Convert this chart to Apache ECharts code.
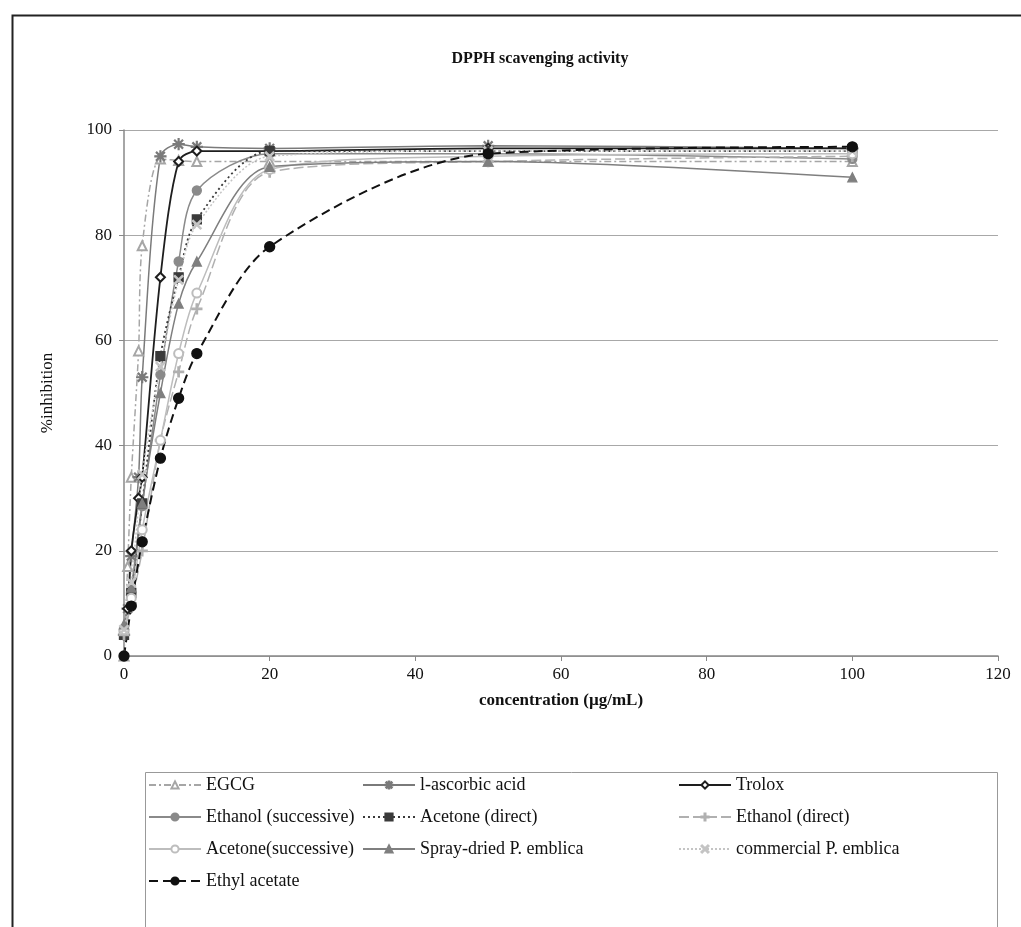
<!DOCTYPE html>
<html>
<head>
<meta charset="utf-8">
<script src="https://cdn.jsdelivr.net/npm/echarts@6/dist/echarts.min.js"></script>
<style>
  html, body { margin: 0; padding: 0; background: #ffffff; }
  #chart { width: 1021px; height: 927px; }
</style>
</head>
<body>
<div id="chart"></div>
<script>
// concentrations (µg/mL)
const standardConc = [0, 0.5, 1, 2, 2.5, 5, 7.5, 10, 20, 50, 100];
const extractConc = [0, 1, 2.5, 5, 7.5, 10, 20, 50, 100];

// %inhibition, standards
const egcg = [0, 17, 34, 58, 78, 94.5, 94.2, 94, 94, 94, 94];
const ascorbic = [4, 9, 19, 34, 53, 95, 97.3, 96.8, 96.5, 97, 96.5];
const trolox = [4, 9, 20, 30, 34, 72, 94, 96, 96, 96.5, 96.5];

// %inhibition, extracts
const ethanolSucc = [5, 12, 28.5, 53.5, 75, 88.5, 95.5, 95.5, 94.5];
const acetoneDirect = [4, 12, 29, 57, 72, 83, 96, 96, 96];
const ethanolDirect = [4, 10, 20, 41, 54, 66, 92, 94, 95];
const acetoneSucc = [5, 11, 24, 41, 57.5, 69, 92.5, 95, 95.5];
const sprayDried = [6, 13, 29, 50, 67, 75, 93, 94, 91];
const commercial = [5, 14, 34.5, 55, 71.5, 82, 95, 96, 96];
const ethylAcetate = [0, 9.5, 21.7, 37.6, 49, 57.5, 77.8, 95.5, 96.8];

const xTicks = [0, 20, 40, 60, 80, 100, 120];
const yTicks = [0, 20, 40, 60, 80, 100];

const pair = (xs, ys) => xs.map((x, i) => [x, ys[i]]);

const plusPath = "path://M4.3 0H5.7V4.3H10V5.7H5.7V10H4.3V5.7H0V4.3H4.3Z";
const crossPath = "path://M1 0L5 4L9 0L10 1L6 5L10 9L9 10L5 6L1 10L0 9L4 5L0 1Z";
const starPath = "path://M4.6 0H5.4V4L8.3 1.1L8.9 1.7L6 4.6H10V5.4H6L8.9 8.3L8.3 8.9L5.4 6V10H4.6V6L1.7 8.9L1.1 8.3L4 5.4H0V4.6H4L1.1 1.7L1.7 1.1L4.6 4Z";

const mk = (name, xs, ys, color, dash, symbol, size, width) => ({
  name: name,
  type: "line",
  data: pair(xs, ys),
  smooth: 0.3,
  symbol: symbol,
  symbolSize: size,
  showAllSymbol: true,
  lineStyle: { color: color, width: width || 1.5, type: dash },
  itemStyle: { color: color, borderColor: color, borderWidth: 1.3 },
  emphasis: { disabled: true },
  animation: false
});

const series = [
  mk("EGCG", standardConc, egcg, "#a6a6a6", [7, 3, 2, 3], "emptyTriangle", 9),
  mk("l-ascorbic acid", standardConc, ascorbic, "#7a7a7a", "solid", starPath, 11),
  mk("Trolox", standardConc, trolox, "#1e1e1e", "solid", "emptyDiamond", 9, 1.8),
  mk("Ethanol (successive)", extractConc, ethanolSucc, "#8a8a8a", "solid", "circle", 9),
  mk("Acetone (direct)", extractConc, acetoneDirect, "#3a3a3a", [2, 3], "rect", 9, 1.8),
  mk("Ethanol (direct)", extractConc, ethanolDirect, "#b0b0b0", [10, 4], plusPath, 10),
  mk("Acetone(successive)", extractConc, acetoneSucc, "#bdbdbd", "solid", "emptyCircle", 9),
  mk("Spray-dried P. emblica", extractConc, sprayDried, "#7f7f7f", "solid", "triangle", 9),
  mk("commercial P. emblica", extractConc, commercial, "#c4c4c4", [2, 2], crossPath, 9),
  mk("Ethyl acetate", extractConc, ethylAcetate, "#111111", [9, 5], "circle", 10, 2)
];

const legendText = { fontFamily: "Liberation Serif", fontSize: 18, color: "#111", lineHeight: 18 };
const legendCol = (left, names) => ({
  orient: "vertical",
  left: left,
  top: 771,
  itemGap: 14,
  itemWidth: 52,
  itemHeight: 9,
  selectedMode: false,
  textStyle: legendText,
  data: names
});

const chart = echarts.init(document.getElementById("chart"), null, { renderer: "canvas" });
const option = {
  backgroundColor: "#ffffff",
  animation: false,
  title: {
    text: "DPPH scavenging activity",
    left: 535,
    top: 46,
    textAlign: "center",
    textStyle: { fontFamily: "Liberation Serif", fontSize: 16, fontWeight: "bold", color: "#111" }
  },
  grid: { left: 124, right: 23, top: 130, bottom: 271, containLabel: false },
  xAxis: {
    type: "value",
    min: 0,
    max: 120,
    interval: 20,
    name: "concentration (µg/mL)",
    nameLocation: "middle",
    nameGap: 36,
    nameTextStyle: { fontFamily: "Liberation Serif", fontSize: 17, fontWeight: "bold", color: "#111" },
    axisLine: { lineStyle: { color: "#888", width: 1.5 } },
    axisTick: { show: true, inside: false, length: 5, lineStyle: { color: "#888" } },
    axisLabel: {
      fontFamily: "Liberation Serif",
      fontSize: 17,
      color: "#111",
      margin: 10,
      formatter: v => (xTicks.includes(v) ? String(v) : "")
    },
    splitLine: { show: false }
  },
  yAxis: {
    type: "value",
    min: 0,
    max: 100,
    interval: 20,
    name: "%inhibition",
    nameLocation: "middle",
    nameGap: 68,
    nameTextStyle: { fontFamily: "Liberation Serif", fontSize: 17, color: "#111" },
    axisLine: { show: true, lineStyle: { color: "#888", width: 1.5 } },
    axisTick: { show: true, length: 5, lineStyle: { color: "#888" } },
    axisLabel: {
      fontFamily: "Liberation Serif",
      fontSize: 17,
      color: "#111",
      margin: 12,
      formatter: v => (yTicks.includes(v) ? String(v) : "")
    },
    splitLine: { show: true, lineStyle: { color: "#a8a8a8", width: 1.2 } }
  },
  legend: [
    legendCol(143, ["EGCG", "Ethanol (successive)", "Acetone(successive)", "Ethyl acetate"]),
    legendCol(357, ["l-ascorbic acid", "Acetone (direct)", "Spray-dried P. emblica"]),
    legendCol(673, ["Trolox", "Ethanol (direct)", "commercial P. emblica"])
  ],
  graphic: [
    {
      type: "rect",
      left: 10,
      top: 13,
      shape: { width: 1060, height: 1000 },
      style: { fill: "none", stroke: "#222", lineWidth: 2 },
      silent: true
    },
    {
      type: "rect",
      left: 143,
      top: 770,
      shape: { width: 852, height: 200 },
      style: { fill: "none", stroke: "#999", lineWidth: 1 },
      silent: true
    }
  ],
  series: series
};
chart.setOption(option);
</script>
</body>
</html>
